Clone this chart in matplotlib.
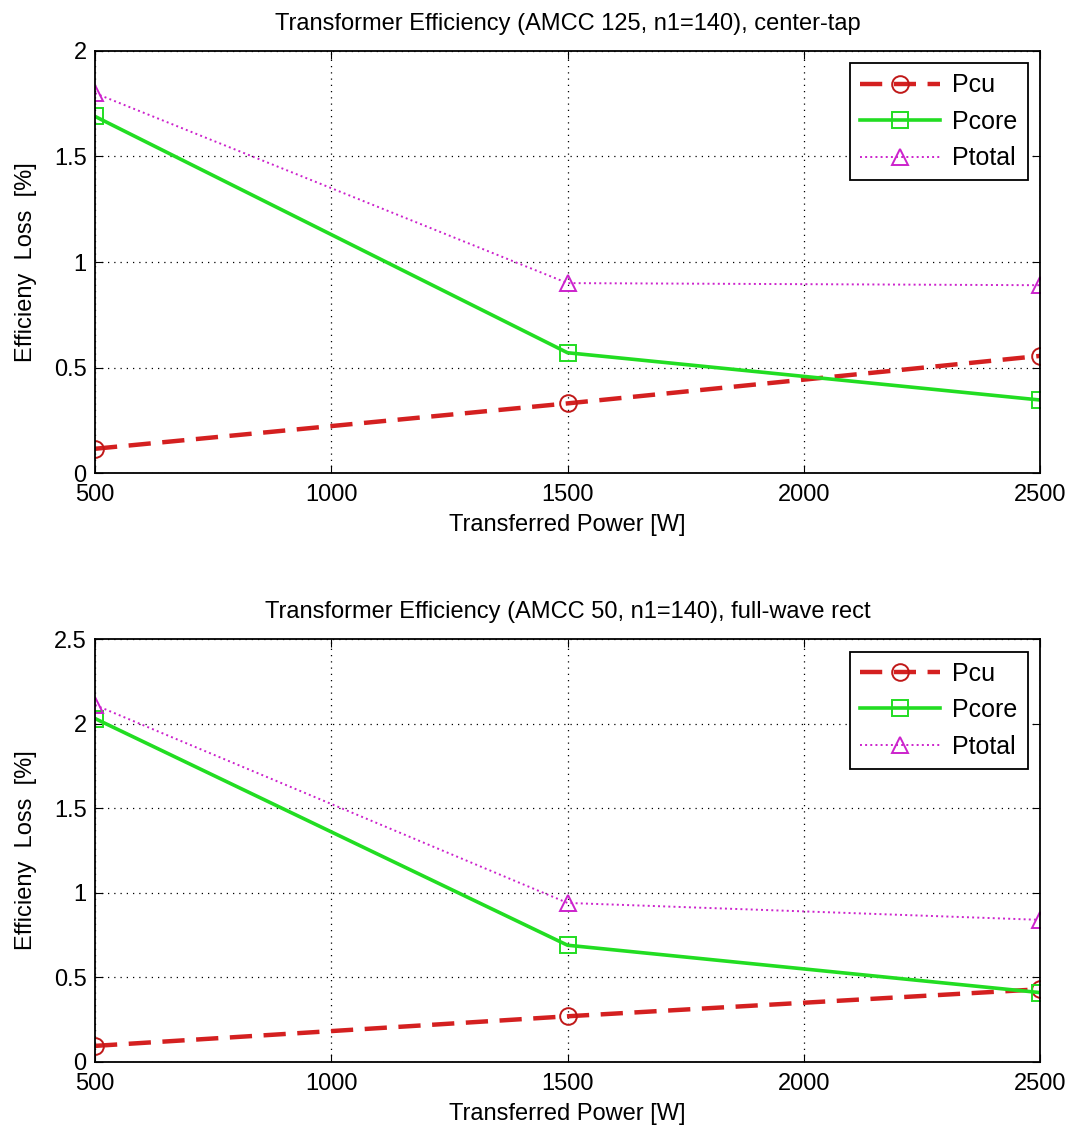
import matplotlib
matplotlib.use("Agg")
import matplotlib.pyplot as plt

plt.rcParams['font.family'] = ['Liberation Sans', 'DejaVu Sans']

power = [500, 1500, 2500]

# top: AMCC 125, center-tap
pcu1 = [0.115, 0.33, 0.555]
pcore1 = [1.69, 0.57, 0.346]
ptotal1 = [1.80, 0.90, 0.89]

# bottom: AMCC 50, full-wave rect
pcu2 = [0.095, 0.27, 0.43]
pcore2 = [2.03, 0.69, 0.41]
ptotal2 = [2.11, 0.94, 0.84]

titles = ['Transformer Efficiency (AMCC 125, n1=140), center-tap',
          'Transformer Efficiency (AMCC 50, n1=140), full-wave rect']
ylims = [(0, 2), (0, 2.5)]
yticks = [[0, 0.5, 1, 1.5, 2], [0, 0.5, 1, 1.5, 2, 2.5]]
ytlabels = [['0', '0.5', '1', '1.5', '2'], ['0', '0.5', '1', '1.5', '2', '2.5']]
xticks = [500, 1000, 1500, 2000, 2500]

red = '#d42020'
green = '#22dd22'
magenta = '#cc22cc'

fig = plt.figure(figsize=(10.71, 11.33), dpi=100)
rects = [[0.0887, 0.5825, 0.8824, 0.3725], [0.0887, 0.0627, 0.8824, 0.3733]]
data = [(pcu1, pcore1, ptotal1), (pcu2, pcore2, ptotal2)]

for k in range(2):
    ax = fig.add_axes(rects[k])
    pcu, pcore, ptotal = data[k]
    ax.plot(power, pcu, '--o', color=red, lw=3.2, ms=12, mfc='none', mew=1.4,
            mec='#c01818', dashes=(5, 2.6), label='Pcu')
    ax.plot(power, pcore, '-s', color=green, lw=2.6, ms=12, mfc='none', mew=1.4,
            label='Pcore')
    ax.plot(power, ptotal, ':^', color=magenta, lw=1.4, ms=12, mfc='none', mew=1.4,
            label='Ptotal')
    ax.set_xlim(500, 2500)
    ax.set_ylim(*ylims[k])
    ax.set_xticks(xticks)
    ax.set_yticks(yticks[k])
    ax.set_yticklabels(ytlabels[k])
    ax.grid(True, color='black', linestyle=(0, (1, 4)), linewidth=0.9)
    ax.tick_params(direction='in', length=6, labelsize=17, top=True, right=True)
    ax.tick_params(axis='x', pad=8)
    ax.tick_params(axis='y', pad=6)
    for s in ax.spines.values():
        s.set_linewidth(1.3)
    ax.set_title(titles[k], fontsize=17, pad=15)
    ax.set_xlabel('Transferred Power [W]', fontsize=17, labelpad=6)
    ax.set_ylabel('Efficieny  Loss  [%]', fontsize=17, labelpad=12)
    leg = ax.legend(loc='upper right', fontsize=18, fancybox=False, framealpha=1,
                    edgecolor='black', handlelength=3.2, borderpad=0.4,
                    labelspacing=0.5, handletextpad=0.5, borderaxespad=0.5)
    leg.get_frame().set_linewidth(1.3)

fig.savefig('out.png', dpi=100)
